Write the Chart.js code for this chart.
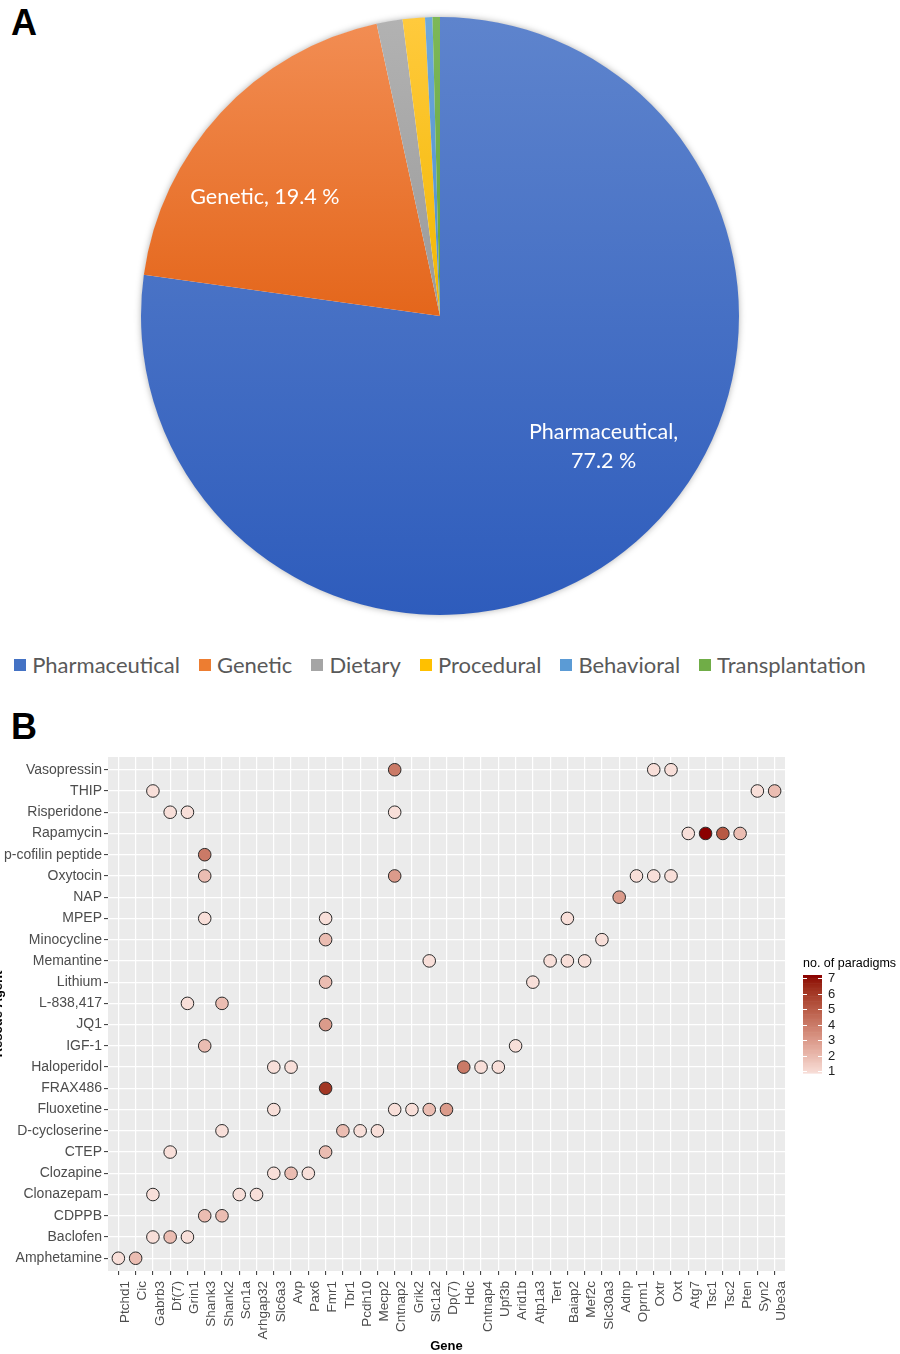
<!DOCTYPE html>
<html>
<head>
<meta charset="utf-8">
<title>Rescue paradigms</title>
<script src="https://cdn.jsdelivr.net/npm/chart.js@4.4.1/dist/chart.umd.min.js"></script>
<style>
  html, body { margin: 0; padding: 0; background: #fff; }
  body { width: 900px; height: 1354px; position: relative; overflow: hidden; }
  .panel-tag {
    position: absolute; font-family: "Liberation Sans", Arial, sans-serif; font-weight: bold;
    font-size: 36px; line-height: 1; color: #000;
  }
  #pieCanvas { position: absolute; left: 0; top: 0; }
  #pieLegend {
    position: absolute; left: 0; top: 651px; width: 880px; display: flex; justify-content: center;
    font-family: Lato, "Open Sans", sans-serif; font-size: 22px; color: #595959; line-height: 28px; white-space: nowrap;
  }
  .lg-item { display: flex; align-items: center; margin-right: 19px; }
  .lg-item:last-child { margin-right: 0; }
  .lg-swatch { width: 12px; height: 12px; margin-right: 6px; display: inline-block; }
  #dotCanvas { position: absolute; left: -16px; top: 740px; }
</style>
</head>
<body>
<div class="panel-tag" style="left:11px; top:5px;">A</div>
<canvas id="pieCanvas" width="880" height="640"></canvas>
<div id="pieLegend"></div>
<div class="panel-tag" style="left:11px; top:709px;">B</div>
<canvas id="dotCanvas" width="916" height="614"></canvas>

<script>
// ---------- Panel A: share of rescue strategies ----------
const slices = ['Pharmaceutical', 'Genetic', 'Dietary', 'Procedural', 'Behavioral', 'Transplantation'];
const shares = [77.2, 19.4, 1.4, 1.2, 0.4, 0.4];

// ---------- Panel B: rescue agent x gene, number of paradigms ----------
const genes = ['Ptchd1', 'Cic', 'Gabrb3', 'Df(7)', 'Grin1', 'Shank3', 'Shank2', 'Scn1a', 'Arhgap32', 'Slc6a3',
  'Avp', 'Pax6', 'Fmr1', 'Tbr1', 'Pcdh10', 'Mecp2', 'Cntnap2', 'Grik2', 'Slc1a2', 'Dp(7)',
  'Hdc', 'Cntnap4', 'Upf3b', 'Arid1b', 'Atp1a3', 'Tert', 'Baiap2', 'Mef2c', 'Slc30a3', 'Adnp',
  'Oprm1', 'Oxtr', 'Oxt', 'Atg7', 'Tsc1', 'Tsc2', 'Pten', 'Syn2', 'Ube3a'];
const agents = ['Amphetamine', 'Baclofen', 'CDPPB', 'Clonazepam', 'Clozapine', 'CTEP', 'D-cycloserine',
  'Fluoxetine', 'FRAX486', 'Haloperidol', 'IGF-1', 'JQ1', 'L-838,417', 'Lithium', 'Memantine',
  'Minocycline', 'MPEP', 'NAP', 'Oxytocin', 'p-cofilin peptide', 'Rapamycin', 'Risperidone', 'THIP', 'Vasopressin'];

const hitAgent = [
  'Amphetamine', 'Amphetamine',
  'Baclofen', 'Baclofen', 'Baclofen',
  'CDPPB', 'CDPPB',
  'Clonazepam', 'Clonazepam', 'Clonazepam',
  'Clozapine', 'Clozapine', 'Clozapine',
  'CTEP', 'CTEP',
  'D-cycloserine', 'D-cycloserine', 'D-cycloserine', 'D-cycloserine',
  'Fluoxetine', 'Fluoxetine', 'Fluoxetine', 'Fluoxetine', 'Fluoxetine',
  'FRAX486',
  'Haloperidol', 'Haloperidol', 'Haloperidol', 'Haloperidol', 'Haloperidol',
  'IGF-1', 'IGF-1',
  'JQ1',
  'L-838,417', 'L-838,417',
  'Lithium', 'Lithium',
  'Memantine', 'Memantine', 'Memantine', 'Memantine',
  'Minocycline', 'Minocycline',
  'MPEP', 'MPEP', 'MPEP',
  'NAP',
  'Oxytocin', 'Oxytocin', 'Oxytocin', 'Oxytocin', 'Oxytocin',
  'p-cofilin peptide',
  'Rapamycin', 'Rapamycin', 'Rapamycin', 'Rapamycin',
  'Risperidone', 'Risperidone', 'Risperidone',
  'THIP', 'THIP', 'THIP',
  'Vasopressin', 'Vasopressin', 'Vasopressin'];
const hitGene = [
  'Ptchd1', 'Cic',
  'Gabrb3', 'Df(7)', 'Grin1',
  'Shank3', 'Shank2',
  'Gabrb3', 'Scn1a', 'Arhgap32',
  'Slc6a3', 'Avp', 'Pax6',
  'Df(7)', 'Fmr1',
  'Shank2', 'Tbr1', 'Pcdh10', 'Mecp2',
  'Slc6a3', 'Cntnap2', 'Grik2', 'Slc1a2', 'Dp(7)',
  'Fmr1',
  'Slc6a3', 'Avp', 'Hdc', 'Cntnap4', 'Upf3b',
  'Shank3', 'Arid1b',
  'Fmr1',
  'Grin1', 'Shank2',
  'Fmr1', 'Atp1a3',
  'Slc1a2', 'Tert', 'Baiap2', 'Mef2c',
  'Fmr1', 'Slc30a3',
  'Shank3', 'Fmr1', 'Baiap2',
  'Adnp',
  'Shank3', 'Cntnap2', 'Oprm1', 'Oxtr', 'Oxt',
  'Shank3',
  'Atg7', 'Tsc1', 'Tsc2', 'Pten',
  'Df(7)', 'Grin1', 'Cntnap2',
  'Gabrb3', 'Syn2', 'Ube3a',
  'Cntnap2', 'Oxtr', 'Oxt'];
const hitCount = [
  1, 2,
  1, 2, 1,
  2, 2,
  1, 1, 1,
  1, 2, 1,
  1, 2,
  1, 2, 1, 1,
  1, 1, 1, 2, 3,
  6,
  1, 1, 4, 1, 1,
  2, 1,
  3,
  1, 2,
  2, 1,
  1, 1, 1, 1,
  2, 1,
  1, 1, 1,
  3,
  2, 3, 1, 1, 1,
  4,
  1, 7, 5, 2,
  1, 1, 1,
  1, 1, 2,
  4, 1, 1];
const countTicks = [1, 2, 3, 4, 5, 6, 7];

// ---------- palettes ----------
const sliceColors = ['#4472C4', '#ED7D31', '#A5A5A5', '#FFC000', '#5B9BD5', '#70AD47'];
const sliceLight  = ['#5E84CD', '#F28D53', '#B2B2B2', '#FFCA3D', '#6EA8DC', '#7DB858'];
const sliceDark   = ['#2E5CBC', '#E4661B', '#9A9A9A', '#F2B700', '#4C8DCB', '#63A23B'];
const lowFill = '#F8DFD9';
const highFill = '#8B0000';

const sansB = '"Liberation Sans", Arial, sans-serif';
const sansA = 'Lato, "Open Sans", sans-serif';

// ---------- colour scale (interpolated in CIE Lab) ----------
function hexToRgb(h) { const n = parseInt(h.slice(1), 16); return [(n >> 16) & 255, (n >> 8) & 255, n & 255]; }
function toLin(c) { c /= 255; return c <= 0.04045 ? c / 12.92 : Math.pow((c + 0.055) / 1.055, 2.4); }
function fromLin(c) { const v = c <= 0.0031308 ? 12.92 * c : 1.055 * Math.pow(c, 1 / 2.4) - 0.055; return Math.round(Math.max(0, Math.min(1, v)) * 255); }
function rgbToLab(rgb) {
  const [r, g, b] = rgb.map(toLin);
  let x = (r * 0.4124 + g * 0.3576 + b * 0.1805) / 0.95047;
  let y = (r * 0.2126 + g * 0.7152 + b * 0.0722);
  let z = (r * 0.0193 + g * 0.1192 + b * 0.9505) / 1.08883;
  const f = t => t > 0.008856 ? Math.cbrt(t) : 7.787 * t + 16 / 116;
  x = f(x); y = f(y); z = f(z);
  return [116 * y - 16, 500 * (x - y), 200 * (y - z)];
}
function labToRgb([L, a, bb]) {
  let y = (L + 16) / 116, x = a / 500 + y, z = y - bb / 200;
  const fi = t => t * t * t > 0.008856 ? t * t * t : (t - 16 / 116) / 7.787;
  x = fi(x) * 0.95047; y = fi(y); z = fi(z) * 1.08883;
  const r = x * 3.2406 - y * 1.5372 - z * 0.4986;
  const g = -x * 0.9689 + y * 1.8758 + z * 0.0415;
  const b = x * 0.0557 - y * 0.2040 + z * 1.0570;
  return [fromLin(r), fromLin(g), fromLin(b)];
}
const labLow = rgbToLab(hexToRgb(lowFill));
const labHigh = rgbToLab(hexToRgb(highFill));
const cMin = countTicks[0], cMax = countTicks[countTicks.length - 1];
function countColour(n) {
  const t = Math.max(0, Math.min(1, (n - cMin) / (cMax - cMin)));
  const lab = labLow.map((v, i) => v + (labHigh[i] - v) * t);
  const [r, g, b] = labToRgb(lab);
  return `rgb(${r},${g},${b})`;
}

// ---------- Panel A: pie ----------
function pieGeometry(area) {
  return { cx: (area.left + area.right) / 2, cy: (area.top + area.bottom) / 2, r: Math.min(area.width, area.height) / 2 };
}
function sliceSpan(i, area) {
  const total = shares.reduce((a, b) => a + b, 0);
  const before = shares.slice(0, i).reduce((a, b) => a + b, 0);
  const start = before / total * 2 * Math.PI - Math.PI / 2;
  const end = start + shares[i] / total * 2 * Math.PI;
  const { cy, r } = pieGeometry(area);
  const ys = [cy];
  for (let k = 0; k <= 64; k++) ys.push(cy + r * Math.sin(start + (end - start) * k / 64));
  return [Math.min(...ys), Math.max(...ys)];
}

const pieShadow = {
  id: 'pieShadow',
  beforeDatasetsDraw(chart) {
    const { ctx, chartArea } = chart;
    const { cx, cy, r } = pieGeometry(chartArea);
    ctx.save();
    ctx.shadowColor = 'rgba(0,0,0,0.35)';
    ctx.shadowBlur = 7;
    ctx.fillStyle = '#ffffff';
    ctx.beginPath(); ctx.arc(cx, cy, r - 0.5, 0, Math.PI * 2); ctx.fill();
    ctx.restore();
  }
};

// label anchors in polar form: clockwise degrees from 12 o'clock, fraction of the radius
const pieLabelSpots = { 0: { deg: 128.6, frac: 0.70 }, 1: { deg: 304.2, frac: 0.708 } };
const pieLabels = {
  id: 'pieLabels',
  afterDatasetsDraw(chart) {
    const { ctx } = chart;
    const arc = chart.getDatasetMeta(0).data[0];
    const cx = arc.x, cy = arc.y, r = arc.outerRadius;
    ctx.save();
    ctx.fillStyle = '#ffffff';
    ctx.font = `21.5px ${sansA}`;
    ctx.textAlign = 'center';
    ctx.textBaseline = 'middle';
    Object.keys(pieLabelSpots).forEach(k => {
      const i = +k, spot = pieLabelSpots[k];
      const a = spot.deg * Math.PI / 180;
      const x = cx + Math.sin(a) * r * spot.frac, y = cy - Math.cos(a) * r * spot.frac;
      const lines = i === 0 ? [slices[i] + ',', shares[i].toFixed(1) + ' %'] : [slices[i] + ', ' + shares[i].toFixed(1) + ' %'];
      const lh = 29;
      lines.forEach((t, j) => ctx.fillText(t, x, y + (j - (lines.length - 1) / 2) * lh));
    });
    ctx.restore();
  }
};

const pie = new Chart(document.getElementById('pieCanvas'), {
  type: 'pie',
  data: {
    labels: slices,
    datasets: [{
      data: shares,
      borderWidth: 0,
      backgroundColor: (c) => {
        const area = c.chart.chartArea;
        const i = c.dataIndex;
        if (!area) return sliceColors[i];
        const [y0, y1] = sliceSpan(i, area);
        const g = c.chart.ctx.createLinearGradient(0, y0, 0, y1 + 0.01);
        g.addColorStop(0, sliceLight[i]);
        g.addColorStop(1, sliceDark[i]);
        return g;
      }
    }]
  },
  options: {
    responsive: false,
    animation: false,
    events: [],
    layout: { padding: { top: 17, bottom: 25, left: 0, right: 0 } },
    plugins: { legend: { display: false }, tooltip: { enabled: false } }
  },
  plugins: [pieShadow, pieLabels]
});

// legend row built from the pie's own labels
const legendBox = document.getElementById('pieLegend');
pie.data.labels.forEach((lab, i) => {
  const item = document.createElement('span');
  item.className = 'lg-item';
  const sw = document.createElement('span');
  sw.className = 'lg-swatch';
  sw.style.background = sliceColors[i];
  item.append(sw, document.createTextNode(lab));
  legendBox.append(item);
});

// ---------- Panel B: dot matrix ----------
const points = hitAgent.map((a, k) => ({ x: genes.indexOf(hitGene[k]), y: agents.indexOf(a), n: hitCount[k] }));

const panelBackground = {
  id: 'panelBackground',
  beforeDraw(chart) {
    const { ctx, chartArea: a } = chart;
    ctx.save();
    ctx.fillStyle = '#EBEBEB';
    ctx.fillRect(a.left, a.top, a.width, a.height);
    ctx.restore();
  }
};

const colourBar = {
  id: 'colourBar',
  afterDraw(chart) {
    const { ctx, chartArea: a } = chart;
    const mid = (a.top + a.bottom) / 2;
    const x0 = a.right + 18, w = 19;
    const yOf = v => mid + 57 - (v - cMin) * (93 / (cMax - cMin));
    const top = yOf(cMax) - 3, bottom = yOf(cMin) + 2;
    ctx.save();
    ctx.fillStyle = '#000';
    ctx.font = `12.5px ${sansB}`;
    ctx.textAlign = 'left';
    ctx.textBaseline = 'alphabetic';
    ctx.fillText('no. of paradigms', x0, top - 8);
    const steps = 60;
    for (let s = 0; s < steps; s++) {
      const v0 = cMin + (cMax - cMin) * s / steps;
      const yTop = bottom - (bottom - top) * (s + 1) / steps;
      const yBot = bottom - (bottom - top) * s / steps;
      ctx.fillStyle = countColour(v0 + (cMax - cMin) / steps / 2);
      ctx.fillRect(x0, yTop, w, yBot - yTop + 0.6);
    }
    ctx.strokeStyle = '#ffffff';
    ctx.lineWidth = 1;
    ctx.fillStyle = '#222';
    ctx.font = `13px ${sansB}`;
    ctx.textBaseline = 'middle';
    countTicks.forEach(v => {
      const y = Math.round(yOf(v)) + 0.5;
      ctx.beginPath();
      ctx.moveTo(x0, y); ctx.lineTo(x0 + 4, y);
      ctx.moveTo(x0 + w - 4, y); ctx.lineTo(x0 + w, y);
      ctx.stroke();
      ctx.fillText(String(v), x0 + w + 6, yOf(v) + 0.5);
    });
    ctx.restore();
  }
};

new Chart(document.getElementById('dotCanvas'), {
  type: 'scatter',
  data: {
    datasets: [{
      data: points,
      pointRadius: 6.3,
      pointBorderWidth: 1,
      pointBorderColor: '#2a2a2a',
      pointBackgroundColor: (c) => countColour(c.raw ? c.raw.n : 1)
    }]
  },
  options: {
    responsive: false,
    animation: false,
    events: [],
    layout: { padding: { top: 17, right: 115, bottom: 0, left: 0 } },
    plugins: { legend: { display: false }, tooltip: { enabled: false } },
    scales: {
      x: {
        type: 'linear',
        min: -0.6,
        max: genes.length - 1 + 0.6,
        afterBuildTicks: (s) => { s.ticks = genes.map((_, i) => ({ value: i })); },
        afterFit: (s) => { s.height = 83; },
        grid: { color: '#ffffff', lineWidth: 1.2, tickColor: '#333333', tickLength: 4, tickWidth: 1 },
        border: { display: false },
        ticks: {
          autoSkip: false, maxRotation: 90, minRotation: 90, padding: 6, labelOffset: 7,
          color: '#4D4D4D', font: { family: sansB, size: 13.5 },
          callback: (v) => genes[v]
        },
        title: { display: true, text: 'Gene', color: '#000', font: { family: sansB, size: 13, weight: 'bold' }, padding: { top: 0, bottom: 0 } }
      },
      y: {
        type: 'linear',
        min: -0.6,
        max: agents.length - 1 + 0.6,
        afterBuildTicks: (s) => { s.ticks = agents.map((_, i) => ({ value: i })); },
        afterFit: (s) => { s.width = 124; },
        grid: { color: '#ffffff', lineWidth: 1.2, tickColor: '#333333', tickLength: 4, tickWidth: 1 },
        border: { display: false },
        ticks: {
          autoSkip: false, padding: 2,
          color: '#4D4D4D', font: { family: sansB, size: 14 },
          callback: (v) => agents[v]
        },
        title: { display: true, text: 'Rescue Agent', color: '#000', font: { family: sansB, size: 13, weight: 'bold' }, padding: { top: 6.7, bottom: 0 } }
      }
    }
  },
  plugins: [panelBackground, colourBar]
});
</script>
</body>
</html>
